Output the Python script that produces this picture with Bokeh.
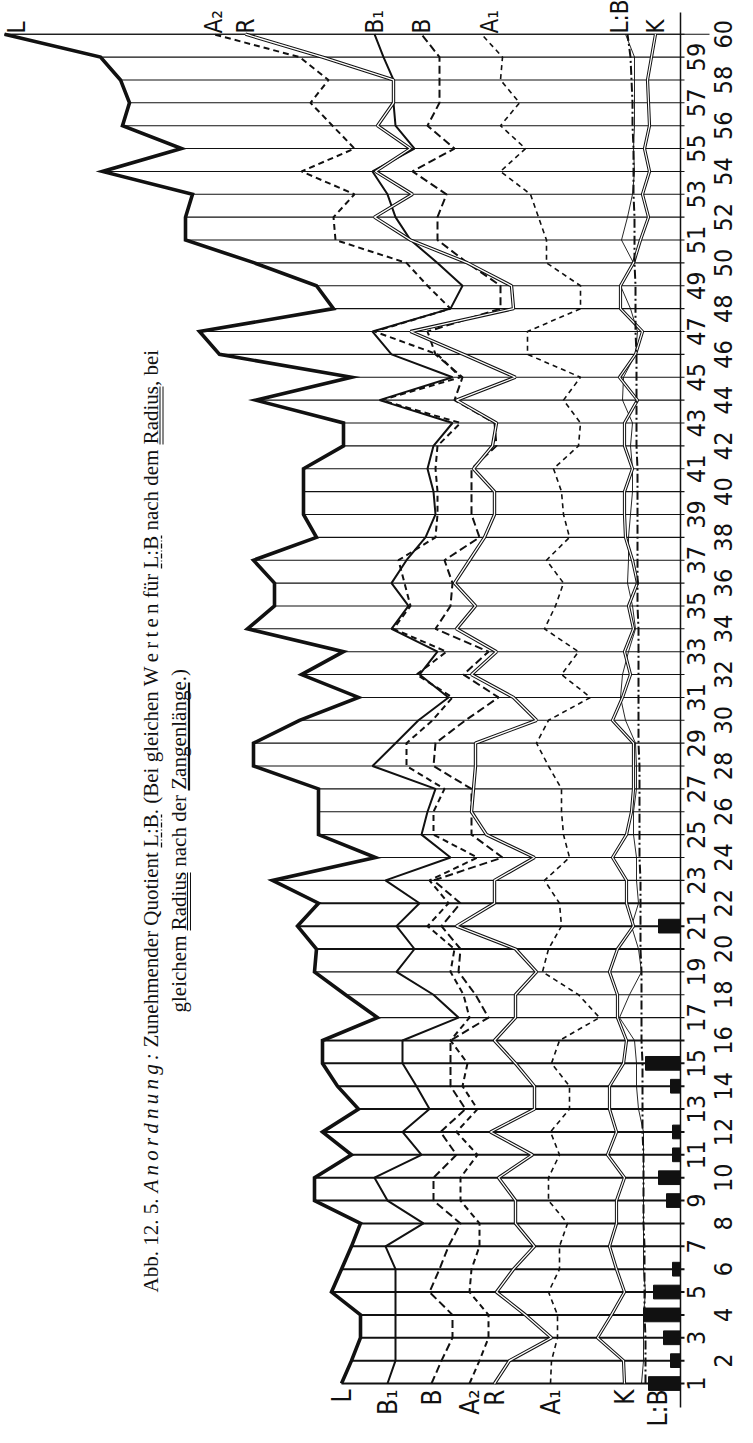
import math
from bokeh.plotting import figure
from bokeh.models import Range1d
from bokeh.core.properties import value
from bokeh.embed import file_html
from bokeh.resources import INLINE

# ---------------- data (distance of each curve from the right-hand base line) ----------------
cats = list(range(1, 61))

L = [339, 329, 320, 320, 349, 339, 329, 320, 366, 366,
     329, 358, 322, 343, 358, 358, 303, 335, 366, 364,
     383, 362, 408, 305, 362, 362, 362, 427, 427, 381,
     322, 379, 337, 433, 406, 406, 427, 364, 377, 377,
     377, 337, 337, 425, 329, 461, 481, 347, 364, 426,
     495, 495, 488, 578, 499, 558, 551, 560, 580, 676]
B1 = [293, 285, 285, 285, 285, 285, 295, 257, 293, 306,
      259, 278, 251, 264, 278, 278, 222, 247, 284, 266,
      284, 261, 295, 230, 259, 253, 245, 308, 285, 262,
      232, 261, 243, 289, 272, 289, 274, 255, 245, 247,
      253, 247, 228, 301, 228, 289, 308, 230, 218, 243,
      270, 285, 293, 308, 266, 285, 287, 287, 297, 306]
B = [249, 239, 228, 228, 251, 241, 232, 220, 247, 247,
     224, 240, 215, 230, 230, 230, 192, 205, 222, 220,
     239, 220, 247, 178, 209, 209, 209, 247, 245, 215,
     182, 217, 192, 245, 230, 228, 236, 201, 209, 209,
     209, 184, 186, 226, 218, 245, 253, 180, 180, 213,
     243, 243, 234, 268, 226, 253, 241, 241, 241, 259]
A2 = [211, 201, 192, 192, 211, 209, 201, 201, 220, 220,
      203, 224, 203, 218, 213, 230, 211, 217, 230, 226,
      253, 232, 251, 203, 247, 247, 236, 274, 274, 248,
      228, 264, 234, 287, 270, 276, 282, 245, 243, 243,
      245, 243, 220, 299, 220, 243, 306, 230, 253, 274,
      345, 347, 326, 379, 326, 348, 370, 352, 381, 467]
R = [186, 171, 129, 155, 184, 167, 146, 165, 165, 182,
     148, 190, 146, 146, 165, 186, 165, 165, 144, 165,
     224, 186, 186, 146, 194, 209, 207, 205, 205, 144,
     167, 209, 184, 224, 205, 226, 211, 196, 186, 186,
     207, 188, 184, 224, 165, 217, 270, 167, 169, 213,
     270, 306, 268, 305, 270, 303, 287, 287, 358, 435]
A1 = [130, 129, 123, 123, 132, 121, 121, 113, 132, 132,
      121, 130, 111, 111, 129, 121, 81, 102, 138, 132,
      119, 121, 136, 111, 117, 119, 119, 132, 144, 132,
      90, 119, 102, 136, 125, 117, 134, 111, 117, 119,
      127, 102, 100, 117, 100, 153, 153, 100, 100, 134,
      134, 142, 150, 180, 155, 180, 161, 180, 178, 199]
K = [56, 57, 83, 69, 56, 64, 71, 64, 64, 56,
     73, 64, 71, 71, 57, 54, 63, 63, 71, 63,
     47, 54, 54, 68, 54, 49, 47, 47, 47, 68,
     58, 50, 56, 47, 52, 43, 48, 55, 56, 56,
     48, 56, 56, 43, 61, 45, 38, 60, 60, 47,
     40, 32, 38, 31, 36, 31, 32, 33, 29, 25]
T = [39, 37, 37, 37, 35, 37, 37, 37, 37, 37,
     37, 37, 42, 44, 44, 46, 61, 51, 39, 42,
     49, 42, 44, 44, 47, 47, 44, 44, 45, 55,
     60, 58, 52, 45, 48, 53, 52, 52, 50, 48,
     48, 50, 48, 58, 57, 45, 43, 50, 60, 47,
     59, 53, 48, 46, 47, 46, 46, 46, 46, 55]
LB = [35, 35, 35, 36, 36, 36, 36, 37, 37, 37,
      37, 38, 38, 38, 38, 39, 39, 39, 39, 40,
      40, 40, 40, 41, 41, 41, 41, 41, 42, 42,
      42, 42, 42, 42, 43, 43, 43, 43, 43, 43,
      43, 44, 44, 44, 44, 44, 45, 45, 45, 46,
      46, 46, 47, 47, 47, 48, 48, 49, 50, 53]

bar_cats = [1, 2, 3, 4, 5, 6, 9, 10, 11, 12, 14, 15, 21]
bar_len = [32, 10, 17, 37, 27, 8, 14, 22, 8, 8, 10, 35, 22]
bold_rows = [1, 2, 3, 4, 5, 6, 7, 8, 9, 10, 11, 12, 13, 14, 15, 16, 20, 21, 22]

bottom_names = ["L", "B\u2081", "B", "A\u2082", "R", "A\u2081", "K", "L:B"]
top_names = ["L", "A\u2082", "R", "B\u2081", "B", "A\u2081", "L:B", "K"]

TS = "\u2009"
cap_a = "Abb. 12. 5."
cap_b = TS.join("Anordnung:")
cap_c = ("Zunehmender Quotient L:B. (Bei gleichen " + TS.join("Werten")
         + " f\u00fcr L:B nach dem Radius, bei")
cap_d = "gleichem Radius nach der Zangenl\u00e4nge.)"


# ---------------- layout helpers (page pixel -> data) ----------------
def vx(px):
    return 688 - px


def cy(py):
    return 60 - (py - 41.7) / 22.87


p = figure(width=737, height=1427, x_range=Range1d(680, -57), y_range=Range1d(-0.923, 61.474),
           output_backend="svg", toolbar_location=None,
           x_axis_location=None, y_axis_location=None,
           min_border_left=0, min_border_right=0, min_border_top=0, min_border_bottom=0)
p.grid.visible = False
p.outline_line_color = None
p.background_fill_color = "white"
p.border_fill_color = "white"

INK = "#111111"

# horizontal rulings from the L-curve to just past the base line
thin_c = [c for c in cats if c not in bold_rows]
bold_c = [c for c in cats if c in bold_rows]
p.segment(x0=[L[c - 1] for c in thin_c], y0=thin_c, x1=[vx(692)] * len(thin_c), y1=thin_c,
          line_color=INK, line_width=1.1)
p.segment(x0=[L[c - 1] for c in bold_c], y0=bold_c, x1=[vx(692)] * len(bold_c), y1=bold_c,
          line_color=INK, line_width=2.0)
p.segment(x0=[L[-1]], y0=[60], x1=[vx(717)], y1=[60], line_color=INK, line_width=1.1)

# base line
p.segment(x0=[0], y0=[cy(1415)], x1=[0], y1=[cy(20)], line_color=INK, line_width=1.5)

# curves
p.line(L, cats, line_color=INK, line_width=3.6, line_join="miter")
p.line(B1, cats, line_color=INK, line_width=2.0)
p.line(B, cats, line_color=INK, line_width=2.0, line_dash="8 4")
p.line(A2, cats, line_color=INK, line_width=2.0, line_dash="6 4")
p.line(A1, cats, line_color=INK, line_width=1.6, line_dash="5 4")
p.line(T, cats, line_color=INK, line_width=0.9)
p.line(R, cats, line_color=INK, line_width=3.4)
p.line(R, cats, line_color="white", line_width=1.3)
p.line(K, cats, line_color=INK, line_width=3.2)
p.line(K, cats, line_color="white", line_width=1.2)
p.line(LB, cats, line_color=INK, line_width=2.0, line_dash="9 3 2 3")

# black bars at the base line
p.hbar(y=bar_cats, left=0, right=bar_len, height=0.6, fill_color=INK, line_color=INK)

# category numbers, rotated, in two columns
lab_font = value("DejaVu Sans Condensed, Liberation Sans Narrow, Liberation Sans")
odd = [c for c in cats if c % 2 == 1]
even = [c for c in cats if c % 2 == 0]
p.text(x=[vx(703)] * len(odd), y=odd, text=[str(c) for c in odd], angle=math.pi / 2,
       text_align="center", text_baseline="middle", text_font=lab_font,
       text_font_size="25px", text_color=INK)
p.text(x=[vx(730)] * len(even), y=even, text=[str(c) for c in even], angle=math.pi / 2,
       text_align="center", text_baseline="middle", text_font=lab_font,
       text_font_size="25px", text_color=INK)

# curve names at both ends
bottom_x = [L[0], B1[0], B[0], A2[0], R[0], A1[0], K[0], LB[0] - 12]
top_x = [vx(24), A2[-1], R[-1], B1[-1], B[-1], A1[-1] - 8, LB[-1] + 8, K[-1]]
p.text(x=bottom_x, y=[cy(1397)] * 8, text=bottom_names, angle=math.pi / 2,
       text_align="right", text_baseline="middle", text_font=lab_font,
       text_font_size="26px", text_color=INK)
p.text(x=top_x, y=[cy(41)] * 8, text=top_names, angle=math.pi / 2,
       text_align="left", text_baseline="middle", text_font=lab_font,
       text_font_size="24px", text_color=INK)

# caption (rotated, two lines)
cap_font = value("Liberation Serif")
for txt, y0, style in [(cap_a, 1300, "normal"), (cap_b, 1200, "italic"), (cap_c, 1055, "normal")]:
    p.text(x=[vx(158)], y=[cy(y0)], text=[txt], angle=math.pi / 2, text_align="left",
           text_baseline="middle", text_font=cap_font, text_font_size="21px", text_color=INK,
           text_font_style=style)
p.text(x=[vx(186)], y=[cy(1020)], text=[cap_d], angle=math.pi / 2, text_align="left",
       text_baseline="middle", text_font=cap_font, text_font_size="21px", text_color=INK)

# caption underlines (dash-dot under L:B, double under Radius, heavy under Zangenlaenge)
p.segment(x0=[vx(169), vx(169)], y0=[cy(855), cy(576)], x1=[vx(169), vx(169)], y1=[cy(822), cy(543)],
          line_color=INK, line_width=1.3, line_dash="5 2 1 2")
p.segment(x0=[vx(167.5), vx(170.5), vx(195), vx(198)], y0=[cy(452), cy(452), cy(938), cy(938)],
          x1=[vx(167.5), vx(170.5), vx(195), vx(198)], y1=[cy(394), cy(394), cy(880), cy(880)],
          line_color=INK, line_width=1.0)
p.segment(x0=[vx(196.5)], y0=[cy(798)], x1=[vx(196.5)], y1=[cy(690)], line_color=INK, line_width=2.2)

open("out.html", "w").write(file_html(p, INLINE))
